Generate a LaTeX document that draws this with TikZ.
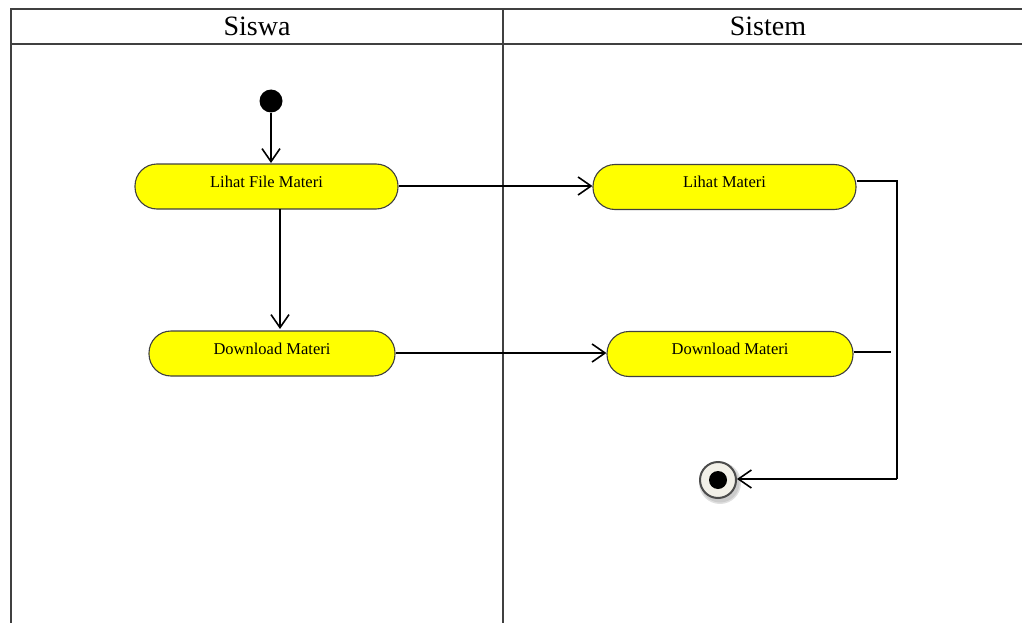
\documentclass[tikz,border=0pt]{standalone}
\usepackage{fontspec}
\setmainfont{Liberation Serif}
\usetikzlibrary{arrows.meta}
\definecolor{actfill}{RGB}{255,255,0}
\definecolor{endfill}{RGB}{242,240,232}
\begin{document}
\begin{tikzpicture}[x=1pt,y=-1pt,
  lane/.style={draw=black!75, line width=1.1pt},
  action/.style={draw=black!75, line width=1.1pt, fill=actfill, rounded corners=22pt,
    minimum height=45pt, text depth=10pt, font=\fontsize{16.5}{18}\selectfont, inner sep=0pt},
  flow/.style={line width=1.3pt, -{Straight Barb[length=13pt,width=18pt,line width=1.6pt]}},
  plain/.style={line width=1.3pt},
  header/.style={font=\fontsize{28}{32}\selectfont, anchor=center}]
\useasboundingbox (0,0) rectangle (1022,623);
% swimlane frame
\draw[lane] (11,623) -- (11,9) -- (1030,9);
\draw[lane] (11,44) -- (1030,44);
\draw[lane] (503,9) -- (503,623);
\node[header] (siswa) at (257,26) {Siswa};
\node[header] (sistem) at (768,26) {Sistem};
% start node
\node[circle, fill=black, minimum size=23pt, inner sep=0pt] (start) at (271,101) {};
% actions
\node[action, minimum width=263pt] (lfm) at (266.5,186.5) {Lihat File Materi};
\node[action, minimum width=263pt] (lm) at (724.5,187) {Lihat Materi};
\node[action, minimum width=246pt] (dm1) at (272,353.5) {Download Materi};
\node[action, minimum width=246pt] (dm2) at (730,354) {Download Materi};
% end node with soft shadow
\fill[black!12] (720,483) circle (21pt);
\fill[black!20] (720,483) circle (19.5pt);
\node[circle, draw=black!70, line width=2pt, fill=endfill, minimum size=36pt, inner sep=0pt] (end) at (718,480) {};
\fill[black] (end.center) circle (9pt);
% corner points of the return path
\coordinate (c1) at (897,181);
\coordinate (c2) at (897,479);
\coordinate (c3) at (891,352);
% connectors
\draw[flow] (start) -- (271,163);
\draw[flow] (lfm.east |- 0,186) -- (lm.west |- 0,186);
\draw[flow] (280,209) -- (280,329);
\draw[flow] (dm1.east |- 0,353) -- (dm2.west |- 0,353);
\draw[plain] (lm.east |- c1) -- (c1) -- (c2);
\draw[flow] (c2) -- (end.east |- c2);
\draw[plain] (dm2.east |- c3) -- (c3);
\end{tikzpicture}
\end{document}
